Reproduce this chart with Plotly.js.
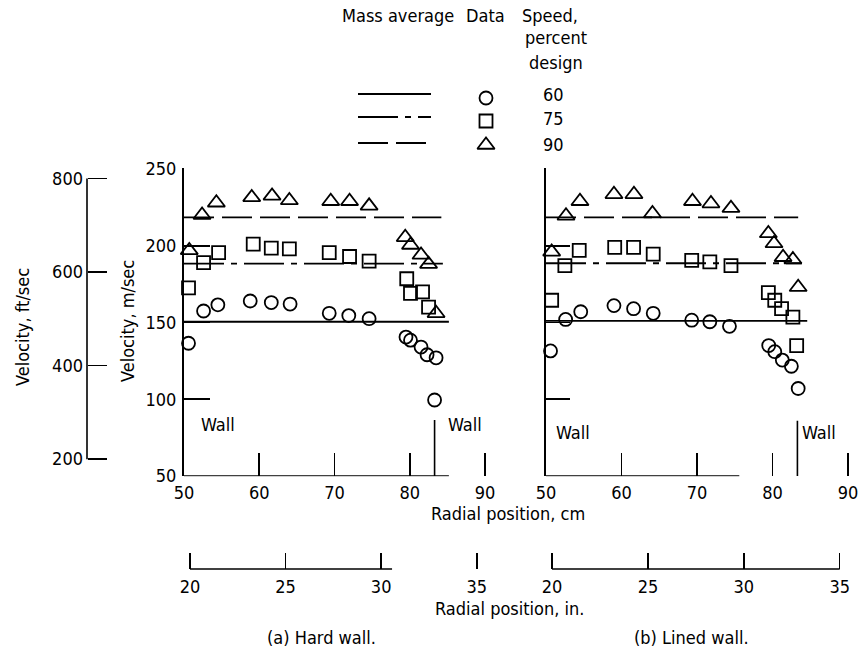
<!DOCTYPE html>
<html>
<head>
<meta charset="utf-8">
<script src="https://cdn.plot.ly/plotly-3.0.1.min.js"></script>
<style>html,body{margin:0;padding:0;background:#fff;}#chart{width:860px;height:653px;}</style>
</head>
<body>
<div id="chart"></div>
<script>
// ---------------- data ----------------
const speeds = ["60", "75", "90"];
// Mass-average velocity, m/sec
const massAvgHard = [150.5, 188.3, 218.5];
const massAvgLined = [151.0, 188.6, 218.5];
const massAvgStart = 50;
const massAvgEndHard = [85.2, 84.4, 84.2];
const massAvgEndLined = [84.6, 83.9, 83.4];

// (a) Hard wall: radial position (cm) and velocity (m/sec)
const hard60x = [50.6, 52.6, 54.5, 58.8, 61.6, 64.1, 69.3, 71.9, 74.6, 79.5, 80.1, 81.5, 82.3, 83.5, 83.3];
const hard60y = [136.5, 157.5, 161.5, 164, 163, 162, 156, 154.5, 152.5, 140.5, 138.5, 134, 129, 127, 99.5];
const hard75x = [50.6, 52.6, 54.6, 59.2, 61.6, 64.0, 69.3, 72.0, 74.6, 79.6, 80.1, 81.7, 82.5];
const hard75y = [172.5, 189, 195.5, 201, 198.5, 198, 195.5, 193, 190, 178.5, 169, 170, 160];
const hard90x = [50.7, 52.4, 54.3, 59.0, 61.7, 64.0, 69.5, 72.0, 74.6, 79.4, 80.1, 81.5, 82.5, 83.5];
const hard90y = [197, 220, 228, 231.5, 232.5, 229.5, 229, 229, 226, 205.5, 200.5, 194, 188, 156];

// (b) Lined wall
const lined60x = [50.6, 52.6, 54.6, 59.0, 61.6, 64.2, 69.3, 71.7, 74.3, 79.5, 80.3, 81.3, 82.5, 83.4];
const lined60y = [131.5, 152, 157, 161, 159, 156, 151.5, 150.5, 147.5, 135, 131, 125.5, 121.5, 107];
const lined75x = [50.75, 52.5, 54.4, 59.1, 61.6, 64.2, 69.3, 71.7, 74.5, 79.45, 80.3, 81.2, 82.7, 83.2];
const lined75y = [164.5, 187, 197, 199, 199, 194.5, 190.5, 189.5, 187, 169.5, 164.5, 159, 153.5, 135];
const lined90x = [50.75, 52.65, 54.5, 59.0, 61.65, 64.1, 69.4, 71.85, 74.5, 79.45, 80.2, 81.4, 82.7, 83.4];
const lined90y = [196, 219.5, 229, 233.5, 233.5, 221, 229, 227.5, 224.5, 208, 201.5, 192.5, 191, 173];

// axes
const cmTicks = [50, 60, 70, 80, 90];
const msTicks = [50, 100, 150, 200, 250];
const ftTicks = [200, 400, 600, 800];
const inTicks = [20, 25, 30, 35];
const wallPos = 83.3;

// ---------------- styling ----------------
const W = 860, H = 653;
const fx = p => p / W;
const fy = p => 1 - p / H;
const FONT = "Liberation Sans Narrow, DejaVu Sans Condensed, Arial Narrow, sans-serif";
const tf = {family: FONT, size: 18, color: "#000"};
const dashes = ["solid", "40px,7px,6px,7px", "30px,8px"];
const symbols = ["circle-open", "square-open", "triangle-up-open"];
const msizes = [13, 13, 15];
const LW = 1.6;

const traces = [];
function massLine(vals, ends, xa, ya) {
  vals.forEach((v, i) => {
    traces.push({type: "scatter", mode: "lines", x: [massAvgStart, ends[i]], y: [v, v],
      xaxis: xa, yaxis: ya, line: {color: "#000", width: 1.8, dash: dashes[i]}, hoverinfo: "skip", showlegend: false});
  });
}
massLine(massAvgHard, massAvgEndHard, "x", "y");
massLine(massAvgLined, massAvgEndLined, "x2", "y2");

function pts(x, y, i, xa, ya) {
  traces.push({type: "scatter", mode: "markers", x: x, y: y, xaxis: xa, yaxis: ya,
    marker: {symbol: symbols[i], size: msizes[i], color: "#000", line: {color: "#000", width: 1.8}},
    showlegend: false, cliponaxis: false});
}
pts(hard60x, hard60y, 0, "x", "y");
pts(hard75x, hard75y, 1, "x", "y");
pts(hard90x, hard90y, 2, "x", "y");
pts(lined60x, lined60y, 0, "x2", "y2");
pts(lined75x, lined75y, 1, "x2", "y2");
pts(lined90x, lined90y, 2, "x2", "y2");

// anchor traces for the secondary scales
const toFt = v => v / 0.3048;
const toIn = c => c / 2.54;
traces.push({type: "scatter", mode: "markers", x: [50, 90], y: ftTicks.slice(0, 2), xaxis: "x", yaxis: "y3", marker: {opacity: 0}, hoverinfo: "skip", showlegend: false});
traces.push({type: "scatter", mode: "markers", x: inTicks.slice(0, 2), y: [60, 60], xaxis: "x3", yaxis: "y", marker: {opacity: 0}, hoverinfo: "skip", showlegend: false});
traces.push({type: "scatter", mode: "markers", x: inTicks.slice(0, 2), y: [60, 60], xaxis: "x4", yaxis: "y2", marker: {opacity: 0}, hoverinfo: "skip", showlegend: false});

// legend key (pixel-space overlay axes)
const keyY = [94, 117, 143];
const keyMarkY = [98, 121, 145];
speeds.forEach((s, i) => {
  traces.push({type: "scatter", mode: "lines", x: [358, 431], y: [keyY[i], keyY[i]], xaxis: "x5", yaxis: "y5",
    line: {color: "#000", width: 1.8, dash: dashes[i]}, hoverinfo: "skip", showlegend: false});
  traces.push({type: "scatter", mode: "markers", x: [486], y: [keyMarkY[i]], xaxis: "x5", yaxis: "y5",
    marker: {symbol: symbols[i], size: msizes[i], color: "#000", line: {color: "#000", width: 1.8}}, hoverinfo: "skip", showlegend: false});
});

const axBase = {showgrid: false, zeroline: false, ticks: "inside", tickcolor: "#000", tickwidth: LW,
  tickfont: tf, linecolor: "#000", linewidth: LW, fixedrange: true};

// pixel mapping: cm axis 7.525 px/cm (left), 7.55 px/cm (right); m/sec 1.535 px/unit
const xRange = [49.95, 90.15];
const yRange = [49.9, 250.4];
const yDom = [fy(476 + 0.1 * 1.535), fy(169 - 0.4 * 1.535)];
const layout = {
  width: W, height: H, margin: {l: 0, r: 0, t: 0, b: 0},
  paper_bgcolor: "#fff", plot_bgcolor: "rgba(0,0,0,0)", showlegend: false,
  font: tf,
  xaxis: Object.assign({}, axBase, {domain: [fx(184 - 0.05 * 7.525), fx(184 + 40.15 * 7.525)], range: xRange, anchor: "y",
    tickvals: cmTicks, ticklen: 23, showline: false, ticklabelstandoff: 4}),
  yaxis: Object.assign({}, axBase, {domain: yDom, range: yRange, anchor: "x",
    tickvals: msTicks, ticklen: 26, showline: true, ticklabelstandoff: 2}),
  xaxis2: Object.assign({}, axBase, {domain: [fx(546 - 0.05 * 7.55), fx(546 + 40.15 * 7.55)], range: xRange, anchor: "y2",
    tickvals: cmTicks, ticklen: 23, showline: false, ticklabelstandoff: 4}),
  yaxis2: Object.assign({}, axBase, {domain: yDom, range: yRange, anchor: "x2",
    tickvals: msTicks, ticklen: 24, showline: true, showticklabels: false}),
  yaxis3: Object.assign({}, axBase, {overlaying: "y", anchor: "free", position: fx(87), side: "left",
    range: [toFt(yRange[0]), toFt(yRange[1])], tickvals: ftTicks, ticklen: 19, showline: false, ticklabelstandoff: 4}),
  xaxis3: Object.assign({}, axBase, {overlaying: "x", anchor: "free", position: fy(569),
    range: [toIn(xRange[0]), toIn(xRange[1])], tickvals: inTicks, ticklen: 16, showline: false, ticklabelstandoff: 5}),
  xaxis4: Object.assign({}, axBase, {overlaying: "x2", anchor: "free", position: fy(569),
    range: [toIn(xRange[0]), toIn(xRange[1])], tickvals: inTicks, ticklen: 16, showline: false, ticklabelstandoff: 5}),
  xaxis5: {domain: [0, 1], range: [0, W], visible: false, anchor: "y5", fixedrange: true},
  yaxis5: {domain: [0, 1], range: [H, 0], visible: false, anchor: "x5", fixedrange: true},
  shapes: [
    {type: "line", xref: "x", yref: "y", x0: 50, x1: 85.2, y0: 50, y1: 50, line: {color: "#000", width: LW}},
    {type: "line", xref: "x", yref: "y", x0: wallPos, x1: wallPos, y0: 50, y1: 86.5, line: {color: "#000", width: LW}},
    {type: "line", xref: "x2", yref: "y2", x0: 50, x1: 75.6, y0: 50, y1: 50, line: {color: "#000", width: LW}},
    {type: "line", xref: "x2", yref: "y2", x0: wallPos, x1: wallPos, y0: 50, y1: 86, line: {color: "#000", width: LW}},
    {type: "line", xref: "paper", yref: "y3", x0: fx(87), x1: fx(87), y0: 200, y1: 800, line: {color: "#000", width: LW}},
    {type: "line", xref: "x3", yref: "paper", x0: 20, x1: 30.57, y0: fy(569), y1: fy(569), line: {color: "#000", width: LW}},
    {type: "line", xref: "x4", yref: "paper", x0: 20, x1: 35, y0: fy(569), y1: fy(569), line: {color: "#000", width: LW}}
  ],
  annotations: []
};

function ann(text, x, y, opts) {
  layout.annotations.push(Object.assign({text: text, xref: "paper", yref: "paper", x: fx(x), y: fy(y),
    showarrow: false, xanchor: "center", yanchor: "middle", font: tf, borderpad: 0}, opts || {}));
}
ann("Mass average", 398, 15);
ann("Data", 485, 15);
ann("Speed,", 550, 15);
ann("percent", 556, 38);
ann("design", 556, 62);
speeds.forEach((s, i) => ann(s, 553, keyY[i] + 1));
ann("Velocity, ft/sec", 23, 327, {textangle: -90});
ann("Velocity, m/sec", 127, 321, {textangle: -90});
ann("Wall", 200, 424, {xanchor: "left"});
ann("Wall", 447, 424, {xanchor: "left"});
ann("Wall", 555, 432, {xanchor: "left"});
ann("Wall", 801, 432, {xanchor: "left"});
ann("Radial position, cm", 508, 513);
ann("Radial position, in.", 509, 608);
ann("(a) Hard wall.", 321, 637);
ann("(b) Lined wall.", 691, 637);

Plotly.newPlot("chart", traces, layout, {staticPlot: true, displayModeBar: false});
</script>
</body>
</html>
